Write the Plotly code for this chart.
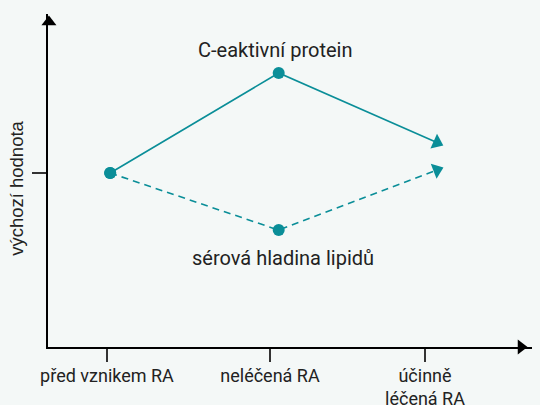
import plotly.graph_objects as go

# Data
categories = ["před vznikem RA", "neléčená RA", "účinně<br>léčená RA"]
category_pos = [1.0, 2.025, 3.0]
point_x = [1.02, 2.08, 3.075]
crp_values = [1.0, 1.575, 1.175]
lipid_values = [1.0, 0.672, 1.017]
baseline = 1.0
crp_label = "C-eaktivní protein"
lipid_label = "sérová hladina lipidů"
y_title = "výchozí hodnota"

teal = "#0a8e98"
ink = "#222222"
bg = "#f4f8f7"

x_range = [0.629, 3.673]
y_range = [0, 1.914]

fig = go.Figure()


def add_series(values, dash, arrow_angle):
    fig.add_trace(go.Scatter(
        x=point_x, y=values, mode="lines",
        line=dict(color=teal, width=1.6, dash=dash),
        showlegend=False, hoverinfo="skip"))
    fig.add_trace(go.Scatter(
        x=point_x[:-1], y=values[:-1], mode="markers",
        marker=dict(color=teal, size=12, symbol="circle", opacity=1),
        cliponaxis=False, showlegend=False, hoverinfo="skip"))
    fig.add_trace(go.Scatter(
        x=point_x[-1:], y=values[-1:], mode="markers",
        marker=dict(color=teal, size=14, symbol="triangle-up", angle=arrow_angle, opacity=1),
        cliponaxis=False, showlegend=False, hoverinfo="skip"))


add_series(crp_values, "solid", 114)
add_series(lipid_values, "7px,5px", 69)

# axis arrowheads
fig.add_trace(go.Scatter(
    x=[0.635], y=[1.868], mode="markers",
    marker=dict(symbol="triangle-up", size=13, color="black"),
    cliponaxis=False, showlegend=False, hoverinfo="skip"))
fig.add_trace(go.Scatter(
    x=[3.604], y=[0], mode="markers",
    marker=dict(symbol="triangle-right", size=13, color="black"),
    cliponaxis=False, showlegend=False, hoverinfo="skip"))

fig.add_annotation(x=2.057, y=1.707, text=crp_label, showarrow=False,
                   font=dict(family="Roboto", size=20, color=ink))
fig.add_annotation(x=2.107, y=0.511, text=lipid_label, showarrow=False,
                   font=dict(family="Roboto", size=20, color=ink))
fig.add_annotation(xref="paper", x=-0.064, xanchor="center", y=0.909, yanchor="middle",
                   text=y_title, showarrow=False, textangle=-90,
                   font=dict(family="Liberation Sans", size=18.5, color=ink))

fig.update_xaxes(range=x_range, showgrid=False, zeroline=False, automargin=False,
                 showline=True, linecolor="black", linewidth=2,
                 tickmode="array", tickvals=category_pos, ticktext=categories,
                 ticks="outside", ticklen=13, tickwidth=1.5, tickcolor="#333333",
                 ticklabelstandoff=-2,
                 tickfont=dict(family="Roboto", size=18, color=ink))
fig.update_yaxes(range=y_range, showgrid=False, zeroline=False, automargin=False,
                 showline=True, linecolor="black", linewidth=2,
                 tickmode="array", tickvals=[baseline], ticktext=[""],
                 ticks="outside", ticklen=14, tickwidth=1.5, tickcolor="#333333")

fig.update_layout(width=540, height=405,
                  margin=dict(l=48, r=8, t=14, b=58),
                  paper_bgcolor=bg, plot_bgcolor=bg)

fig.write_html("out.html", config={"displayModeBar": False},
               post_script="document.body.style.margin='0';"
                           "document.body.style.background='%s';" % bg)
